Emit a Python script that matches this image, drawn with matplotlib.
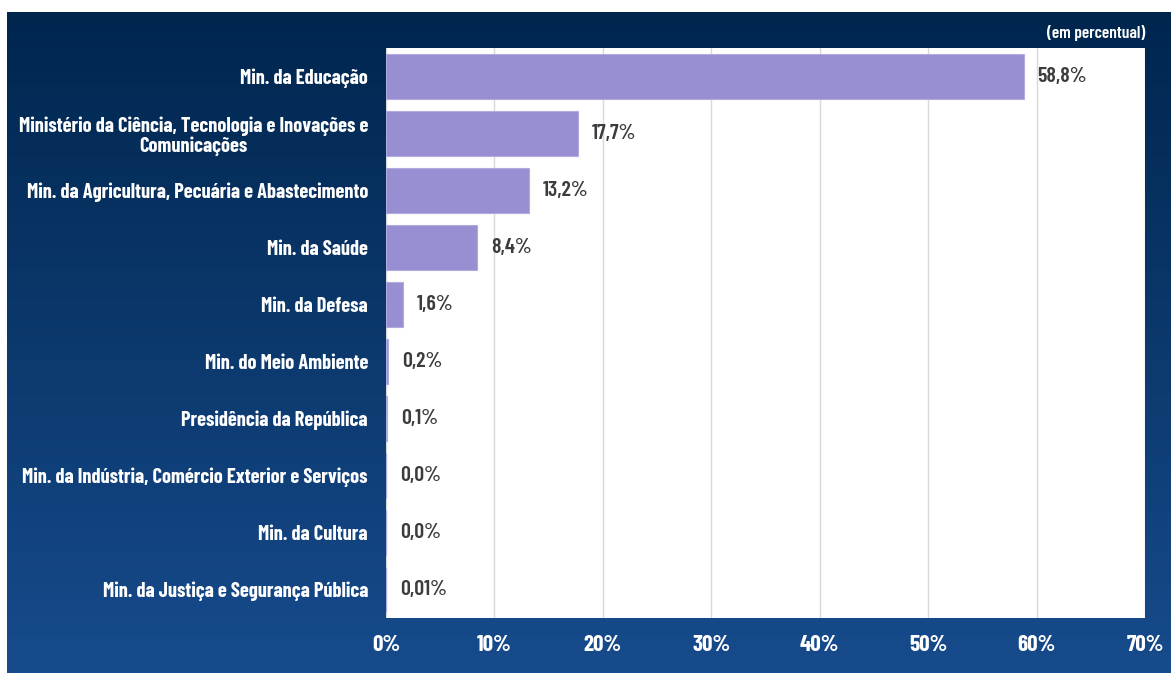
import os
import numpy as np
import matplotlib
matplotlib.use("Agg")
import matplotlib.pyplot as plt
from matplotlib import font_manager as fm
from matplotlib.font_manager import FontProperties
from matplotlib.ticker import FuncFormatter

categories = [
    "Min. da Educação",
    "Ministério da Ciência, Tecnologia e Inovações e\nComunicações",
    "Min. da Agricultura, Pecuária e Abastecimento",
    "Min. da Saúde",
    "Min. da Defesa",
    "Min. do Meio Ambiente",
    "Presidência da República",
    "Min. da Indústria, Comércio Exterior e Serviços",
    "Min. da Cultura",
    "Min. da Justiça e Segurança Pública",
]
values = [58.8, 17.7, 13.2, 8.4, 1.6, 0.2, 0.1, 0.0, 0.0, 0.01]
value_labels = ["58,8%", "17,7%", "13,2%", "8,4%", "1,6%", "0,2%", "0,1%", "0,0%", "0,0%", "0,01%"]
xticks = [0, 10, 20, 30, 40, 50, 60, 70]
unit_note = "(em percentual)"

files = {os.path.basename(f.fname): f.fname for f in fm.fontManager.ttflist}

def find(cands, fallback):
    for c in cands:
        if c in files:
            return FontProperties(fname=files[c])
    return fallback

FPB = find(["BarlowCondensed-Bold.ttf", "BarlowCondensed-SemiBold.ttf",
            "DejaVuSansCondensed-Bold.ttf"],
           FontProperties(family="DejaVu Sans", weight="bold"))
FPM = find(["BarlowCondensed-SemiBold.ttf", "BarlowCondensed-Medium.ttf",
            "DejaVuSansCondensed-Bold.ttf"],
           FontProperties(family="DejaVu Sans", weight="bold"))
FPR = find(["BarlowCondensed-Medium.ttf", "BarlowCondensed-Regular.ttf",
            "DejaVuSansCondensed.ttf"],
           FontProperties(family="DejaVu Sans"))

def fp(base, size):
    p = base.copy()
    p.set_size(size)
    return p

W, H = 1171, 673
fig = plt.figure(figsize=(W / 100, H / 100), dpi=100)
fig.patch.set_facecolor("white")

# scale font so the longest single-line label spans ~341 px like the reference
renderer = fig.canvas.get_renderer()
probe = fig.text(0, 0, "Min. da Agricultura, Pecuária e Abastecimento", fontproperties=fp(FPB, 12))
wpx = probe.get_window_extent(renderer).width
probe.remove()
lab_size = 12 * 341 / wpx
ratio = lab_size / 12

# gradient panel background
bg = fig.add_axes([7 / W, 0, 1 - 7 / W, (H - 12) / H])
bg.set_axis_off()
top = np.array([0x00, 0x26, 0x4e]) / 255
bot = np.array([0x17, 0x4b, 0x8c]) / 255
t = np.linspace(0, 1, 256)[:, None]
grad = top[None, :] * (1 - t) + bot[None, :] * t
bg.imshow(grad[:, None, :], aspect="auto", extent=[0, 1, 0, 1], interpolation="bilinear")
bg.set_xlim(0, 1)
bg.set_ylim(0, 1)

ax = fig.add_axes([386 / W, 1 - 618 / H, (1145 - 386) / W, (618 - 48) / H])
ax.set_facecolor("white")
y = np.arange(len(categories))
ax.barh(y, values, height=0.8, color="#988fd2", edgecolor="#b2abe0", linewidth=0.8, zorder=3)
ax.set_xlim(0, 70)
ax.set_ylim(len(categories) - 0.5, -0.5)
ax.set_xticks(xticks)
ax.xaxis.set_major_formatter(FuncFormatter(lambda v, p: f"{int(v)}%"))
ax.grid(axis="x", color="#d9d9d9", linewidth=1, zorder=0)
ax.set_yticks(y)
ax.set_yticklabels(categories, color="white", fontproperties=fp(FPB, lab_size),
                   multialignment="center", linespacing=1.05)
for lab in ax.get_xticklabels():
    lab.set_color("white")
    lab.set_fontproperties(fp(FPB, 13.5 * ratio))
ax.tick_params(axis="both", length=0)
ax.tick_params(axis="y", pad=13)
ax.tick_params(axis="x", pad=12)
for s in ax.spines.values():
    s.set_visible(False)

for yi, v, lab in zip(y, values, value_labels):
    ax.annotate(lab, xy=(v, yi), xytext=(10, 0), textcoords="offset points",
                ha="left", va="center", fontproperties=fp(FPM, 12.8 * ratio), color="#3c3c3c")

fig.text(1145 / W, 1 - 33 / H, unit_note, ha="right", va="center", color="white",
         fontproperties=fp(FPM, 10.2 * ratio))

fig.savefig("out.png", dpi=100, facecolor=fig.get_facecolor())
